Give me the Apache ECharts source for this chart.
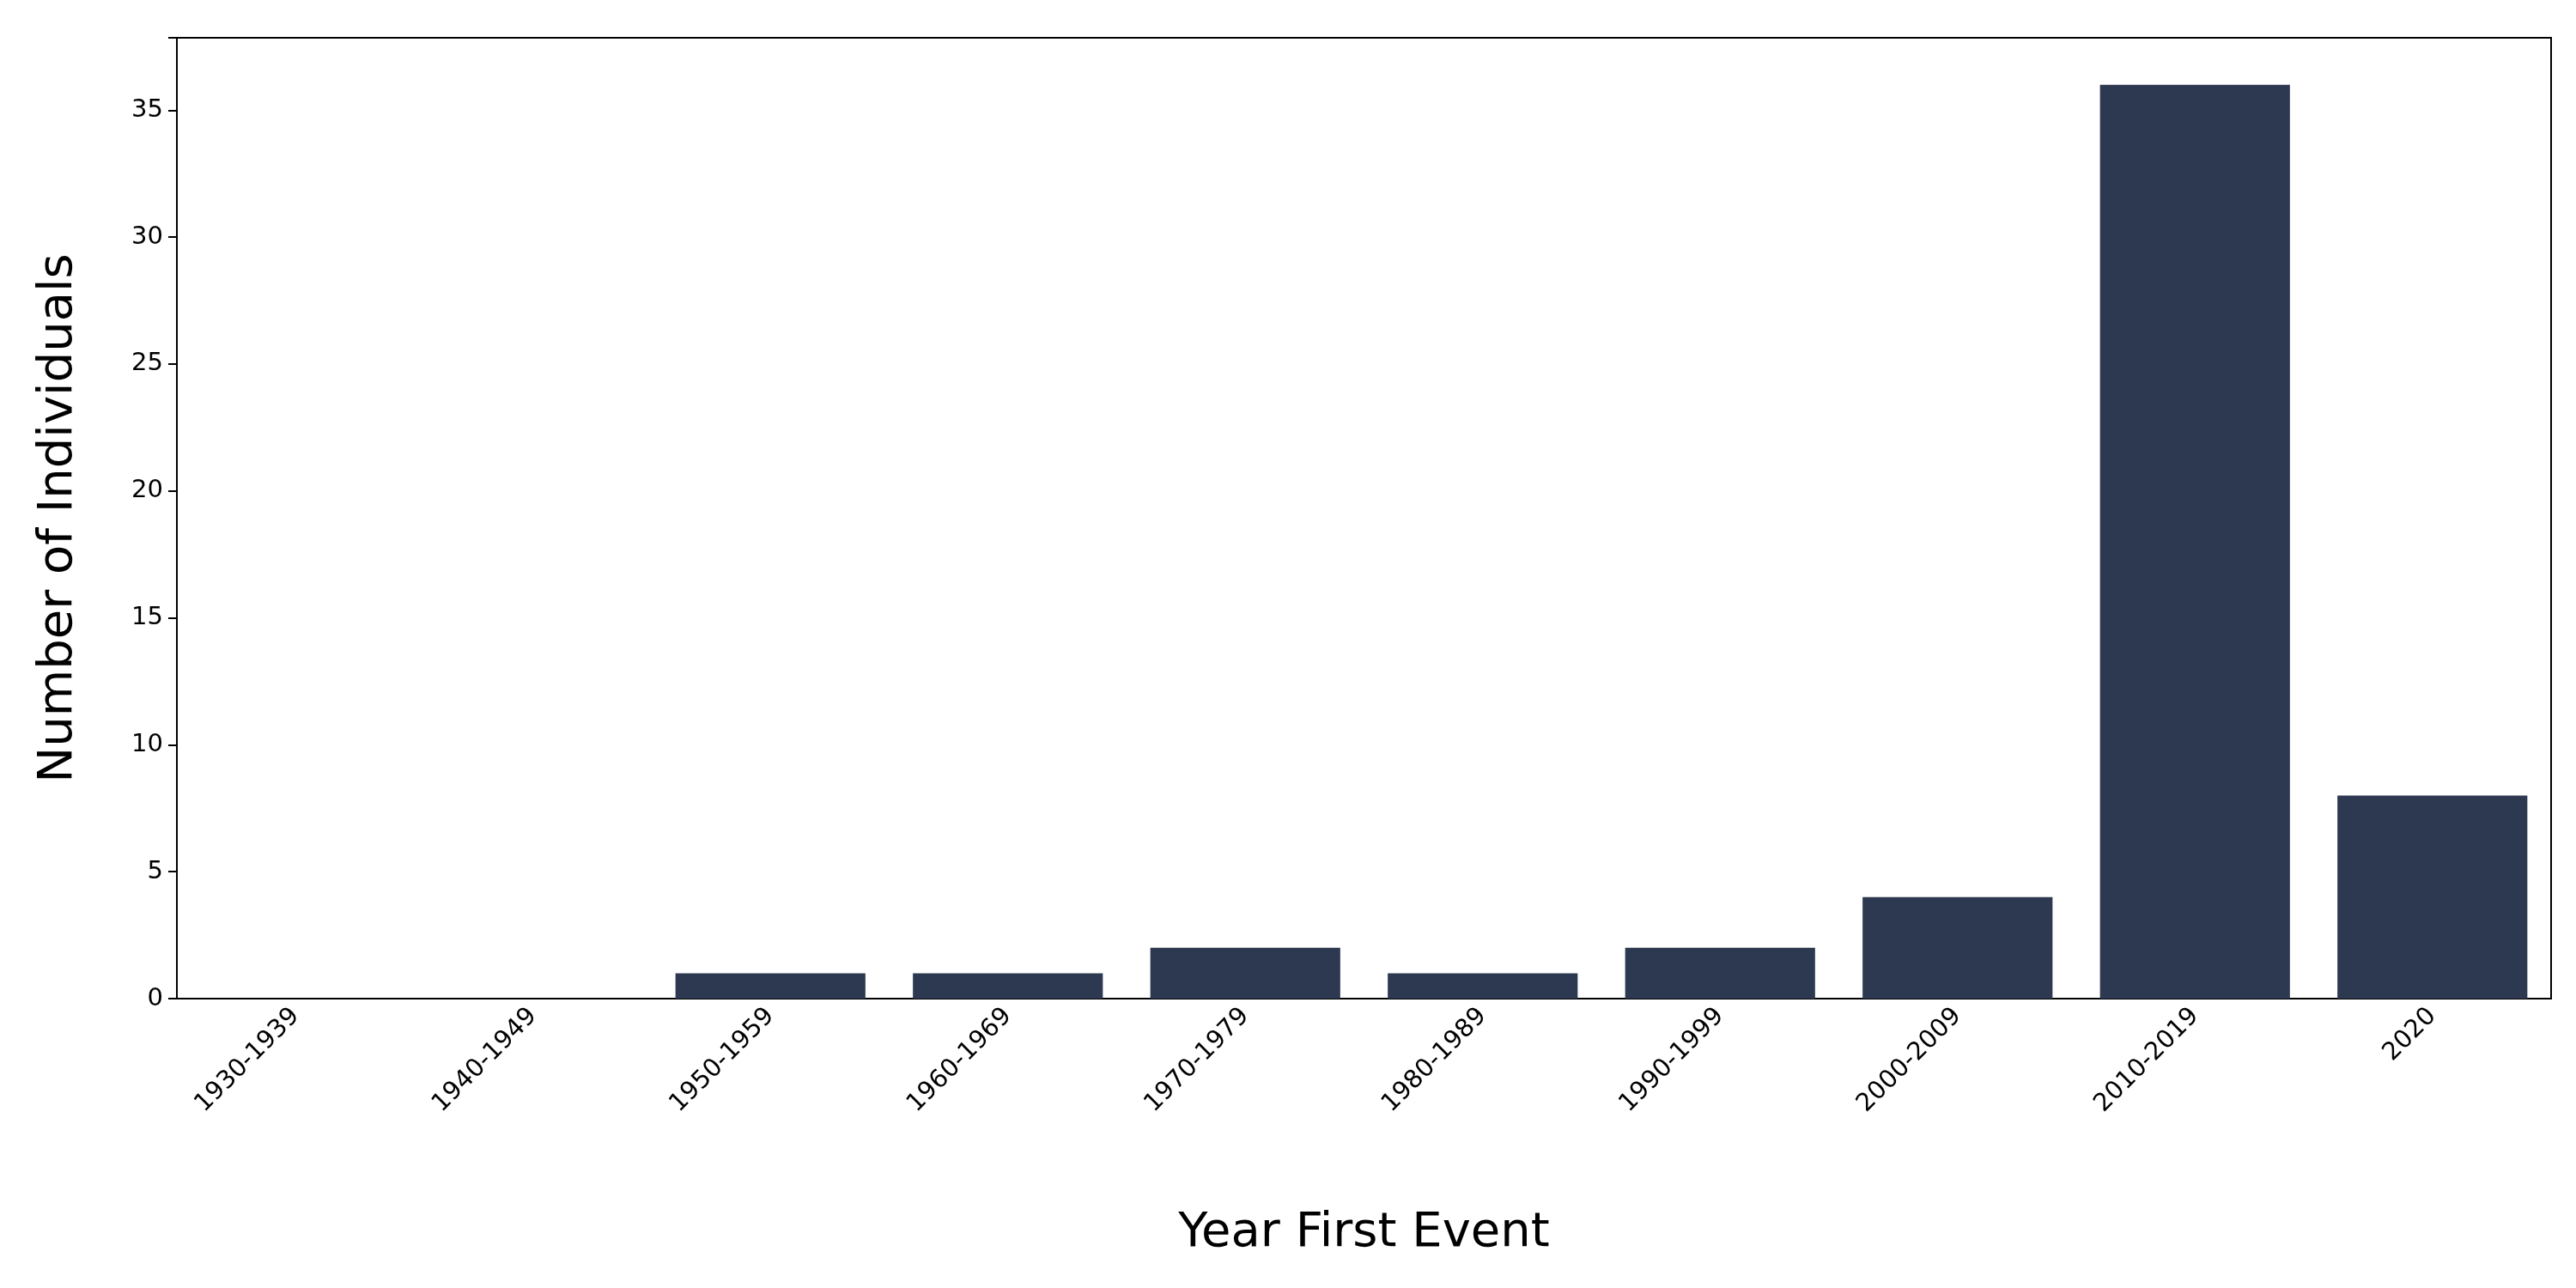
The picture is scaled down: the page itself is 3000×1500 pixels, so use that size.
<!DOCTYPE html>
<html><head><meta charset="utf-8">
<script src="https://cdn.jsdelivr.net/npm/echarts@6/dist/echarts.min.js"></script>
<style>html,body{margin:0;padding:0;background:#fff}#c{width:3000px;height:1500px}</style>
</head><body><div id="c"></div>
<script>
const categories = ['1930-1939','1940-1949','1950-1959','1960-1969','1970-1979','1980-1989','1990-1999','2000-2009','2010-2019','2020'];
const counts = [0,0,1,1,2,1,2,4,36,8];
const yTicks = [0,5,10,15,20,25,30,35];
const chart = echarts.init(document.getElementById('c'));
chart.setOption({
  animation:false,
  grid:{left:206,right:29,top:44,bottom:337,show:true,borderColor:'#000',borderWidth:2,backgroundColor:'transparent'},
  xAxis:{type:'category',data:categories,
    name:'Year First Event',nameLocation:'middle',nameGap:245,
    nameTextStyle:{fontSize:56,color:'#000',fontFamily:'DejaVu Sans'},
    axisLine:{lineStyle:{color:'#000',width:2}},
    axisTick:{alignWithLabel:true,length:10,lineStyle:{color:'#000',width:2}},
    axisLabel:{rotate:45,fontSize:29,color:'#000',fontFamily:'DejaVu Sans',margin:16,interval:0}},
  yAxis:{type:'value',min:0,max:37.85,interval:5,
    name:'Number of Individuals',nameLocation:'middle',nameGap:110,
    nameTextStyle:{fontSize:56,color:'#000',fontFamily:'DejaVu Sans'},
    axisLine:{show:true,lineStyle:{color:'#000',width:2}},
    axisTick:{show:true,length:10,lineStyle:{color:'#000',width:2}},
    splitLine:{show:false},
    axisLabel:{fontSize:29,color:'#000',fontFamily:'DejaVu Sans',margin:16,
      formatter:v=>yTicks.includes(v)?String(v):''}},
  series:[{type:'bar',data:counts,barWidth:'80%',itemStyle:{color:'#2d3950'}}]
});
</script></body></html>
